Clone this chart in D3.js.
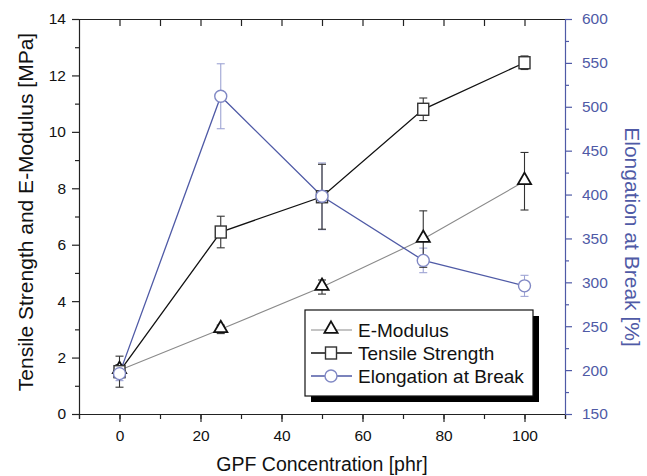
<!DOCTYPE html>
<html>
<head>
<meta charset="utf-8">
<script src="https://cdn.jsdelivr.net/npm/d3@7"></script>
<style>
  body { margin: 0; background: #fff; }
  svg { display: block; font-family: "Liberation Sans", Arial, sans-serif; }
</style>
</head>
<body>
<div id="chart"></div>
<script>
// data
var conc = [0, 25, 50, 75, 100];
var eModulus = [1.55, 3.0, 4.5, 6.2, 8.25];
var eModulusErr = [0.2, 0.15, 0.25, 1.0, 1.02];
var tensile = [1.5, 6.45, 7.7, 10.8, 12.45];
var tensileErr = [0.55, 0.56, 1.15, 0.4, 0.24];
var elongation = [196, 512, 398, 325, 296];
var elongationErr = [8, 37, 38, 14, 12];

var xTicks = [0, 20, 40, 60, 80, 100];
var leftTicks = [0, 2, 4, 6, 8, 10, 12, 14];
var rightTicks = [150, 200, 250, 300, 350, 400, 450, 500, 550, 600];

var blue = "#4f5aa6", lightBlue = "#9ea4d4", markBlue = "#8088c4";

var W = 647, H = 476;
var L = 79, R = 565, T = 19, B = 414;

var svg = d3.select("#chart").append("svg").attr("width", W).attr("height", H);

var x = d3.scaleLinear().domain([-10, 110]).range([L, R]);
var y = d3.scaleLinear().domain([0, 14]).range([B, T]);
var y2 = d3.scaleLinear().domain([150, 600]).range([B, T]);

// axes
var fs = "15.5px";
var gx = svg.append("g").attr("transform", "translate(0," + B + ")")
    .call(d3.axisBottom(x).tickValues(d3.range(-10, 111, 10)).tickSize(5).tickFormat(""));
gx.append("g").call(d3.axisBottom(x).tickValues(xTicks).tickSize(8).tickPadding(8))
    .call(function(g){ g.select(".domain").remove(); });
var gxTop = svg.append("g").attr("transform", "translate(0," + T + ")")
    .call(d3.axisBottom(x).tickValues(d3.range(0, 101, 10)).tickSizeInner(7).tickSizeOuter(0).tickFormat(""));

var gy = svg.append("g").attr("transform", "translate(" + L + ",0)")
    .call(d3.axisLeft(y).tickValues(d3.range(1, 14, 2)).tickSize(4).tickFormat(""));
gy.append("g").call(d3.axisLeft(y).tickValues(leftTicks).tickSize(7).tickPadding(6))
    .call(function(g){ g.select(".domain").remove(); });

var gy2 = svg.append("g").attr("transform", "translate(" + R + ",0)")
    .call(d3.axisRight(y2).tickValues(d3.range(175, 600, 50)).tickSize(4).tickFormat(""));
gy2.append("g").call(d3.axisRight(y2).tickValues(rightTicks).tickSize(7).tickPadding(10))
    .call(function(g){ g.select(".domain").remove(); });

svg.selectAll(".tick text").attr("font-size", fs).attr("font-family", "Liberation Sans, Arial, sans-serif").attr("fill", "#111");
svg.selectAll(".domain, .tick line").attr("stroke", "#222").attr("stroke-width", 1.2);
gy2.selectAll(".domain, .tick line").attr("stroke", blue);
gy2.selectAll(".tick text").attr("fill", blue);
gxTop.select(".domain").attr("stroke", "#222");

// titles
svg.append("text").attr("x", (L + R) / 2).attr("y", 471).attr("text-anchor", "middle")
    .attr("font-size", "19.5px").attr("fill", "#111").text("GPF Concentration [phr]");
svg.append("text").attr("transform", "translate(33,212) rotate(-90)").attr("text-anchor", "middle")
    .attr("font-size", "21px").attr("fill", "#111").text("Tensile Strength and E-Modulus [MPa]");
svg.append("text").attr("transform", "translate(625,237) rotate(90)").attr("text-anchor", "middle")
    .attr("font-size", "21px").attr("fill", blue).text("Elongation at Break [%]");

// series
var series = [
  { name: "E-Modulus", vals: eModulus, err: eModulusErr, ys: y, line: "#8a8a8a", lw: 1.1, mark: "#111", errc: "#333", shape: "tri" },
  { name: "Tensile Strength", vals: tensile, err: tensileErr, ys: y, line: "#111", lw: 1.3, mark: "#333", errc: "#333", shape: "sq" },
  { name: "Elongation at Break", vals: elongation, err: elongationErr, ys: y2, line: blue, lw: 1.3, mark: markBlue, errc: lightBlue, shape: "circ" }
];

function drawMarker(g, shape, cx, cy, color) {
  if (shape === "tri") {
    g.append("path").attr("d", d3.symbol(d3.symbolTriangle, 75)())
      .attr("transform", "translate(" + cx + "," + (cy - 1) + ")")
      .attr("fill", "#fff").attr("stroke", color).attr("stroke-width", 1.8);
  } else if (shape === "sq") {
    g.append("rect").attr("x", cx - 5.5).attr("y", cy - 6).attr("width", 11).attr("height", 12)
      .attr("fill", "#fff").attr("stroke", color).attr("stroke-width", 1.4);
  } else {
    g.append("circle").attr("cx", cx).attr("cy", cy).attr("r", 6)
      .attr("fill", "#fff").attr("stroke", color).attr("stroke-width", 1.4);
  }
}

// error bars
series.slice().reverse().forEach(function(s) {
  var g = svg.append("g");
  conc.forEach(function(c, i) {
    var cx = x(c), y0 = s.ys(s.vals[i] - s.err[i]), y1 = s.ys(s.vals[i] + s.err[i]);
    g.append("line").attr("x1", cx).attr("x2", cx).attr("y1", y0).attr("y2", y1).attr("stroke", s.errc).attr("stroke-width", 1.1);
    [y0, y1].forEach(function(yy) {
      g.append("line").attr("x1", cx - 4).attr("x2", cx + 4).attr("y1", yy).attr("y2", yy).attr("stroke", s.errc).attr("stroke-width", 1.1);
    });
  });
});

// lines and markers
series.forEach(function(s) {
  var line = d3.line().x(function(d, i) { return x(conc[i]); }).y(function(d) { return s.ys(d); });
  svg.append("path").datum(s.vals).attr("d", line).attr("fill", "none").attr("stroke", s.line).attr("stroke-width", s.lw);
});
series.forEach(function(s) {
  var g = svg.append("g");
  conc.forEach(function(c, i) { drawMarker(g, s.shape, x(c), s.ys(s.vals[i]), s.mark); });
});

// legend
var lx = 305, ly = 310, lw = 228, lh = 86;
svg.append("rect").attr("x", lx + 6).attr("y", ly + 6).attr("width", lw).attr("height", lh).attr("fill", "#000");
svg.append("rect").attr("x", lx).attr("y", ly).attr("width", lw).attr("height", lh)
    .attr("fill", "#fff").attr("stroke", "#111").attr("stroke-width", 1.2);
series.forEach(function(s, i) {
  var ry = 330 + i * 23;
  var g = svg.append("g");
  g.append("line").attr("x1", lx + 6).attr("x2", lx + 47).attr("y1", ry).attr("y2", ry).attr("stroke", s.line).attr("stroke-width", s.lw);
  drawMarker(g, s.shape, lx + 26, ry, s.mark);
  g.append("text").attr("x", lx + 53).attr("y", ry + 7).attr("font-size", "19px").attr("fill", "#111").text(s.name);
});
</script>
</body>
</html>
